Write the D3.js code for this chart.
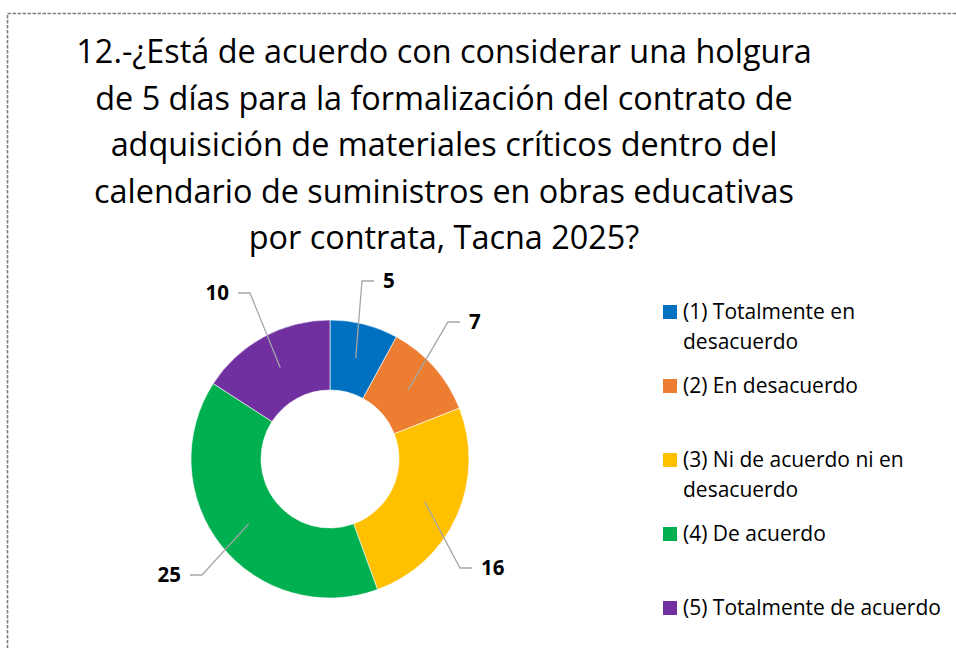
<!DOCTYPE html>
<html>
<head>
<meta charset="utf-8">
<script src="https://cdn.jsdelivr.net/npm/d3@7"></script>
<style>
  body { margin: 0; background: #fff; }
  svg { display: block; }
  text { font-family: "Open Sans", "Liberation Sans", sans-serif; }
</style>
</head>
<body>
<svg id="chart" width="956" height="648"></svg>
<script>
const titleLines = [
  '12.-¿Está de acuerdo con considerar una holgura',
  'de 5 días para la formalización del contrato de',
  'adquisición de materiales críticos dentro del',
  'calendario de suministros en obras educativas',
  'por contrata, Tacna 2025?',
];
const categories = [
  ['(1) Totalmente en', 'desacuerdo'],
  ['(2) En desacuerdo'],
  ['(3) Ni de acuerdo ni en', 'desacuerdo'],
  ['(4) De acuerdo'],
  ['(5) Totalmente de acuerdo'],
];
const values = [5, 7, 16, 25, 10];
const colors = ['#0070C0', '#ED7D31', '#FFC000', '#00B050', '#7030A0'];

const startApp = () => {
  const svg = d3.select('#chart');
  const center = { x: 330, y: 459 };
  const radius = { inner: 69, outer: 139 };

  // dashed frame, runs off the right and bottom edges
  svg.append('rect')
    .attr('x', 7.5)
    .attr('y', 13.5)
    .attr('width', 1000)
    .attr('height', 700)
    .attr('fill', 'none')
    .attr('stroke', '#7f7f7f')
    .attr('stroke-width', 1.6)
    .attr('stroke-dasharray', '3.5,1.5');

  svg.append('g')
    .selectAll('text')
    .data(titleLines)
    .enter()
    .append('text')
    .attr('x', 444)
    .attr('y', (d, i) => 63 + i * 46.5)
    .attr('text-anchor', 'middle')
    .attr('font-size', 32.4)
    .attr('fill', '#000')
    .text(d => d);

  const pie = d3.pie().sort(null).value(d => d);
  const arc = d3.arc().innerRadius(radius.inner).outerRadius(radius.outer);
  const arcs = pie(values);

  const donut = svg.append('g')
    .attr('transform', `translate(${center.x}, ${center.y})`);

  donut.selectAll('path')
    .data(arcs)
    .enter()
    .append('path')
    .attr('d', arc)
    .attr('fill', (d, i) => colors[i])
    .attr('stroke', '#fff')
    .attr('stroke-width', 0.6);

  // elbow of each leader line, relative to the donut centre (Excel placed these by hand)
  const elbows = [[32, -178], [118, -137], [130, 109], [-128, 116], [-80, -166]];
  const side = [1, 1, 1, -1, -1];

  const labels = donut.append('g');
  arcs.forEach((d, i) => {
    const [cx, cy] = arc.centroid(d);
    const [ex, ey] = elbows[i];
    const hx = ex + side[i] * 12;
    labels.append('polyline')
      .attr('points', `${cx},${cy} ${ex},${ey} ${hx},${ey}`)
      .attr('fill', 'none')
      .attr('stroke', '#a6a6a6')
      .attr('stroke-width', 1.3);
    labels.append('text')
      .attr('x', hx + side[i] * 9)
      .attr('y', ey)
      .attr('dy', '0.35em')
      .attr('text-anchor', side[i] > 0 ? 'start' : 'end')
      .attr('font-size', 20.5)
      .attr('font-weight', 'bold')
      .attr('fill', '#000')
      .text(values[i]);
  });

  const legend = svg.append('g')
    .attr('transform', 'translate(663, 312)');
  const item = legend.selectAll('g')
    .data(categories)
    .enter()
    .append('g')
    .attr('transform', (d, i) => `translate(0, ${i * 74})`);
  item.append('rect')
    .attr('x', 0)
    .attr('y', -7)
    .attr('width', 14)
    .attr('height', 14)
    .attr('fill', (d, i) => colors[i]);
  item.selectAll('text')
    .data(d => d)
    .enter()
    .append('text')
    .attr('x', 20)
    .attr('y', (d, j) => j * 30)
    .attr('dy', '0.35em')
    .attr('font-size', 21)
    .attr('fill', '#000')
    .text(d => d);
};

window.onload = startApp;
</script>
</body>
</html>
